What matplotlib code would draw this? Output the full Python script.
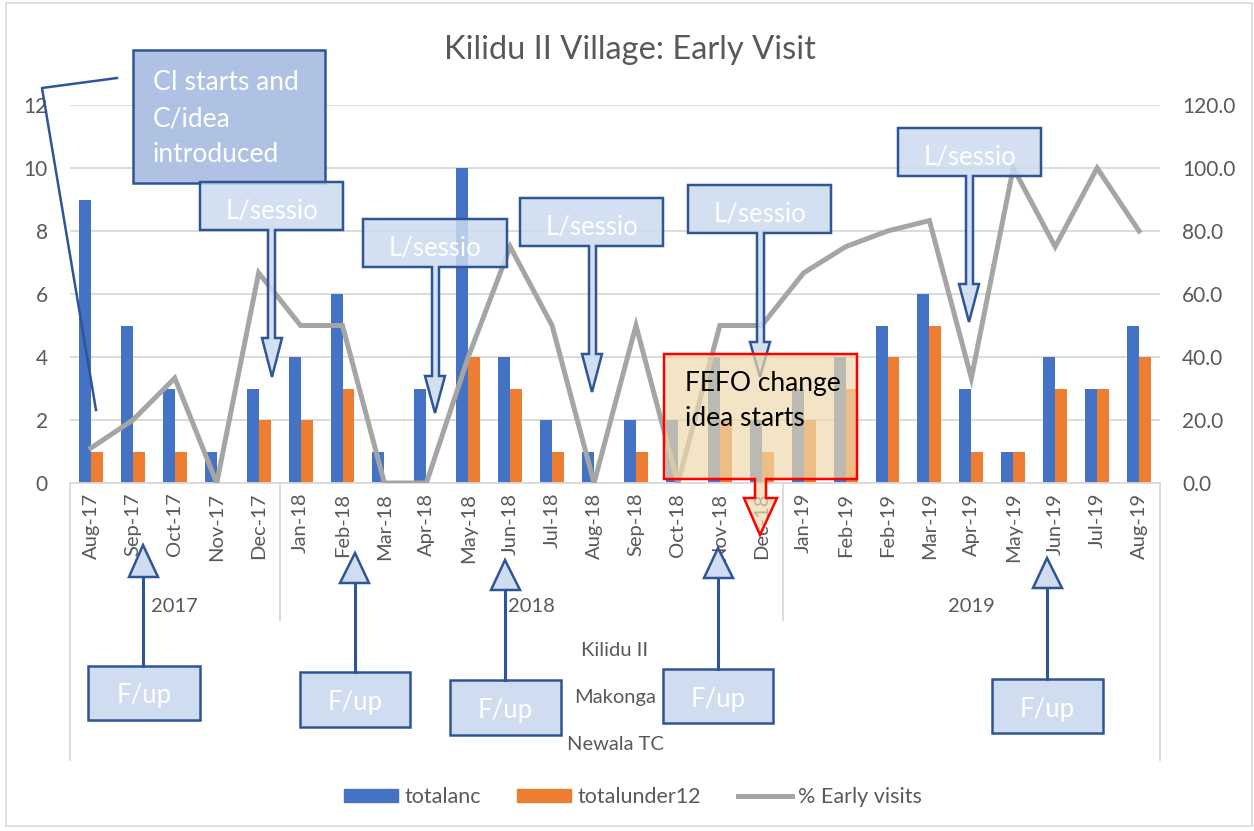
import numpy as np
import matplotlib.pyplot as plt
from matplotlib.patches import Rectangle, Polygon, Patch
from matplotlib.lines import Line2D

# data
months = ['Aug-17', 'Sep-17', 'Oct-17', 'Nov-17', 'Dec-17',
          'Jan-18', 'Feb-18', 'Mar-18', 'Apr-18', 'May-18', 'Jun-18', 'Jul-18',
          'Aug-18', 'Sep-18', 'Oct-18', 'Nov-18', 'Dec-18',
          'Jan-19', 'Feb-19', 'Feb-19', 'Mar-19', 'Apr-19', 'May-19', 'Jun-19',
          'Jul-19', 'Aug-19']
years = ['2017', '2018', '2019']
months_per_year = [5, 12, 9]
totalanc = [9, 5, 3, 1, 3, 4, 6, 1, 3, 10, 4, 2, 1, 2, 2, 4, 2,
            3, 4, 5, 6, 3, 1, 4, 3, 5]
totalunder12 = [1, 1, 1, 0, 2, 2, 3, 0, 0, 4, 3, 1, 0, 1, 0, 2, 1,
                2, 3, 4, 5, 1, 1, 3, 3, 4]
early_pct = [11.1, 20.0, 33.3, 0.0, 66.7, 50.0, 50.0, 0.0, 0.0, 40.0, 75.0,
             50.0, 0.0, 50.0, 0.0, 50.0, 50.0, 66.7, 75.0, 80.0, 83.3, 33.3,
             100.0, 75.0, 100.0, 80.0]
region_labels = ['Kilidu II', 'Makonga', 'Newala TC']

plt.rcParams['font.family'] = ['Lato', 'DejaVu Sans']
GREY_TXT = '#595959'
GRID = '#d9d9d9'
BLUE = '#4472c4'
ORANGE = '#ed7d31'
LINE = '#a5a5a5'
DARK = '#2f5597'

W, H = 1254, 831
fig = plt.figure(figsize=(W / 100, H / 100), dpi=100)

# plot area in pixels
L, R, T, B = 70, 1160, 105, 483
ax = fig.add_axes([L / W, (H - B) / H, (R - L) / W, (B - T) / H])
x = np.arange(len(months))
bw = 0.286
ax.bar(x - bw / 2, totalanc, bw, color=BLUE, zorder=2)
ax.bar(x + bw / 2, totalunder12, bw, color=ORANGE, zorder=2)
ax.set_xlim(-0.5, len(months) - 0.5)
ax.set_ylim(0, 12)
ax.set_yticks(range(0, 13, 2))
ax.yaxis.grid(True, color=GRID, lw=1.3)
ax.set_axisbelow(True)
ax.set_xticks(x)
ax.set_xticklabels(months, rotation=90, fontsize=14.5, color=GREY_TXT)
ax.tick_params(axis='x', length=0, pad=7)
ax.tick_params(axis='y', length=0, pad=16, labelsize=15, labelcolor=GREY_TXT)
for s in ['top', 'left', 'right']:
    ax.spines[s].set_visible(False)
ax.spines['bottom'].set_color(GRID)
ax.spines['bottom'].set_linewidth(1.3)

ax2 = ax.twinx()
ax2.plot(x, early_pct, color=LINE, lw=3.6, solid_joinstyle='miter', zorder=3)
ax2.set_ylim(0, 120)
ax2.set_yticks(range(0, 121, 20))
ax2.set_yticklabels([f'{v:.1f}' for v in range(0, 121, 20)])
ax2.tick_params(axis='y', length=0, pad=16, labelsize=15, labelcolor=GREY_TXT)
for s in ax2.spines.values():
    s.set_visible(False)

# overlay in pixel coordinates for the annotations and category brackets
ov = fig.add_axes([0, 0, 1, 1], zorder=10)
ov.set_xlim(0, W)
ov.set_ylim(H, 0)
ov.axis('off')
ov.patch.set_alpha(0)

ov.add_patch(Rectangle((6, 3), 1246, 823, fill=False, ec=GRID, lw=1.2))
ov.text(630, 50, 'Kilidu II Village: Early Visit', fontsize=23.5,
        color=GREY_TXT, ha='center', va='center')

# multi-level category axis
step = (R - L) / len(months)
edges = np.cumsum([0] + months_per_year)
for i in edges:
    y_end = 760 if i in (0, len(months)) else 620
    ov.plot([L + i * step] * 2, [B, y_end], color=GRID, lw=1.3)
for k, yr in enumerate(years):
    xc = L + (edges[k] + edges[k + 1]) / 2 * step
    ov.text(xc, 607, yr, fontsize=14.5, color=GREY_TXT, ha='center', va='center')
for lab, yy in zip(region_labels, [651, 698, 745]):
    ov.text((L + R) / 2, yy, lab, fontsize=14.5, color=GREY_TXT,
            ha='center', va='center')

# "CI starts" callout
ov.plot([117, 42, 96], [78, 88, 410], color=DARK, lw=1.8)
ov.add_patch(Rectangle((133, 50), 192, 133, fc=(0.67, 0.75, 0.89, 0.95),
                       ec=DARK, lw=1.8))
for txt, yy in zip(['CI starts and', 'C/idea', 'introduced'], [83, 119, 155]):
    ov.text(153, yy, txt, fontsize=19, color='white', va='center')


def down_callout(box, stem, y_head, head, tip, fc, ec, lw):
    x0, y0, x1, y1 = box
    s0, s1 = stem
    h0, h1 = head
    verts = [(x0, y0), (x1, y0), (x1, y1), (s1, y1), (s1, y_head),
             (h1, y_head), tip, (h0, y_head), (s0, y_head), (s0, y1),
             (x0, y1)]
    ov.add_patch(Polygon(verts, closed=True, fc=fc, ec=ec, lw=lw,
                         joinstyle='miter'))


lsessio = [
    ((200, 182, 343, 230), (268, 275), 338, (262, 282), (272, 377)),
    ((363, 219, 507, 267), (432, 439), 376, (425, 445), (435, 413)),
    ((520, 198, 663, 246), (589, 596), 354, (582, 602), (592, 392)),
    ((688, 185, 831, 233), (757, 764), 342, (750, 770), (760, 377)),
    ((898, 128, 1041, 176), (966, 973), 284, (959, 979), (969, 322)),
]
for box, stem, yh, head, tip in lsessio:
    down_callout(box, stem, yh, head, tip, (0.80, 0.86, 0.94, 0.85), DARK, 1.8)
    ov.text((box[0] + box[2]) / 2, (box[1] + box[3]) / 2 + 5, 'L/sessio',
            fontsize=18.5, color='white', ha='center', va='center')

# FEFO callout
down_callout((664, 354, 857, 479), (755, 766), 498, (744, 777), (760, 535),
             (0.93, 0.85, 0.67, 0.7), '#ff0000', 1.8)
ov.text(685, 383, 'FEFO change', fontsize=19, color='black', va='center')
ov.text(685, 419, 'idea starts', fontsize=19, color='black', va='center')

# F/up boxes with up arrows
fup = [
    ((88, 666, 200, 720), 143, 577, (129, 158), 545),
    ((300, 672, 410, 727), 355, 583, (340, 369), 553),
    ((450, 680, 561, 735), 505, 590, (491, 520), 560),
    ((663, 669, 773, 723), 718, 578, (704, 733), 548),
    ((992, 679, 1103, 733), 1047, 588, (1033, 1062), 558),
]
for box, sx, base, head, tipy in fup:
    x0, y0, x1, y1 = box
    ov.plot([sx, sx], [y0, base], color=DARK, lw=2.2)
    ov.add_patch(Polygon([(head[0], base), (head[1], base), (sx, tipy)],
                         closed=True, fc='#d0ddf0', ec=DARK, lw=1.8))
    ov.add_patch(Rectangle((x0, y0), x1 - x0, y1 - y0, fc='#d0ddf0',
                           ec=DARK, lw=1.8))
    ov.text((x0 + x1) / 2, (y0 + y1) / 2 + 3, 'F/up', fontsize=18.5,
            color='white', ha='center', va='center')

handles = [Patch(color=BLUE), Patch(color=ORANGE),
           Line2D([], [], color=LINE, lw=3.6)]
fig.legend(handles, ['totalanc', 'totalunder12', '% Early visits'],
           loc='center', bbox_to_anchor=(633 / W, 1 - 797 / H), ncol=3,
           frameon=False, fontsize=15.5, labelcolor=GREY_TXT,
           handlelength=2.5, handleheight=0.6, handletextpad=0.3,
           columnspacing=1.7)

fig.savefig('out.png', dpi=100)
